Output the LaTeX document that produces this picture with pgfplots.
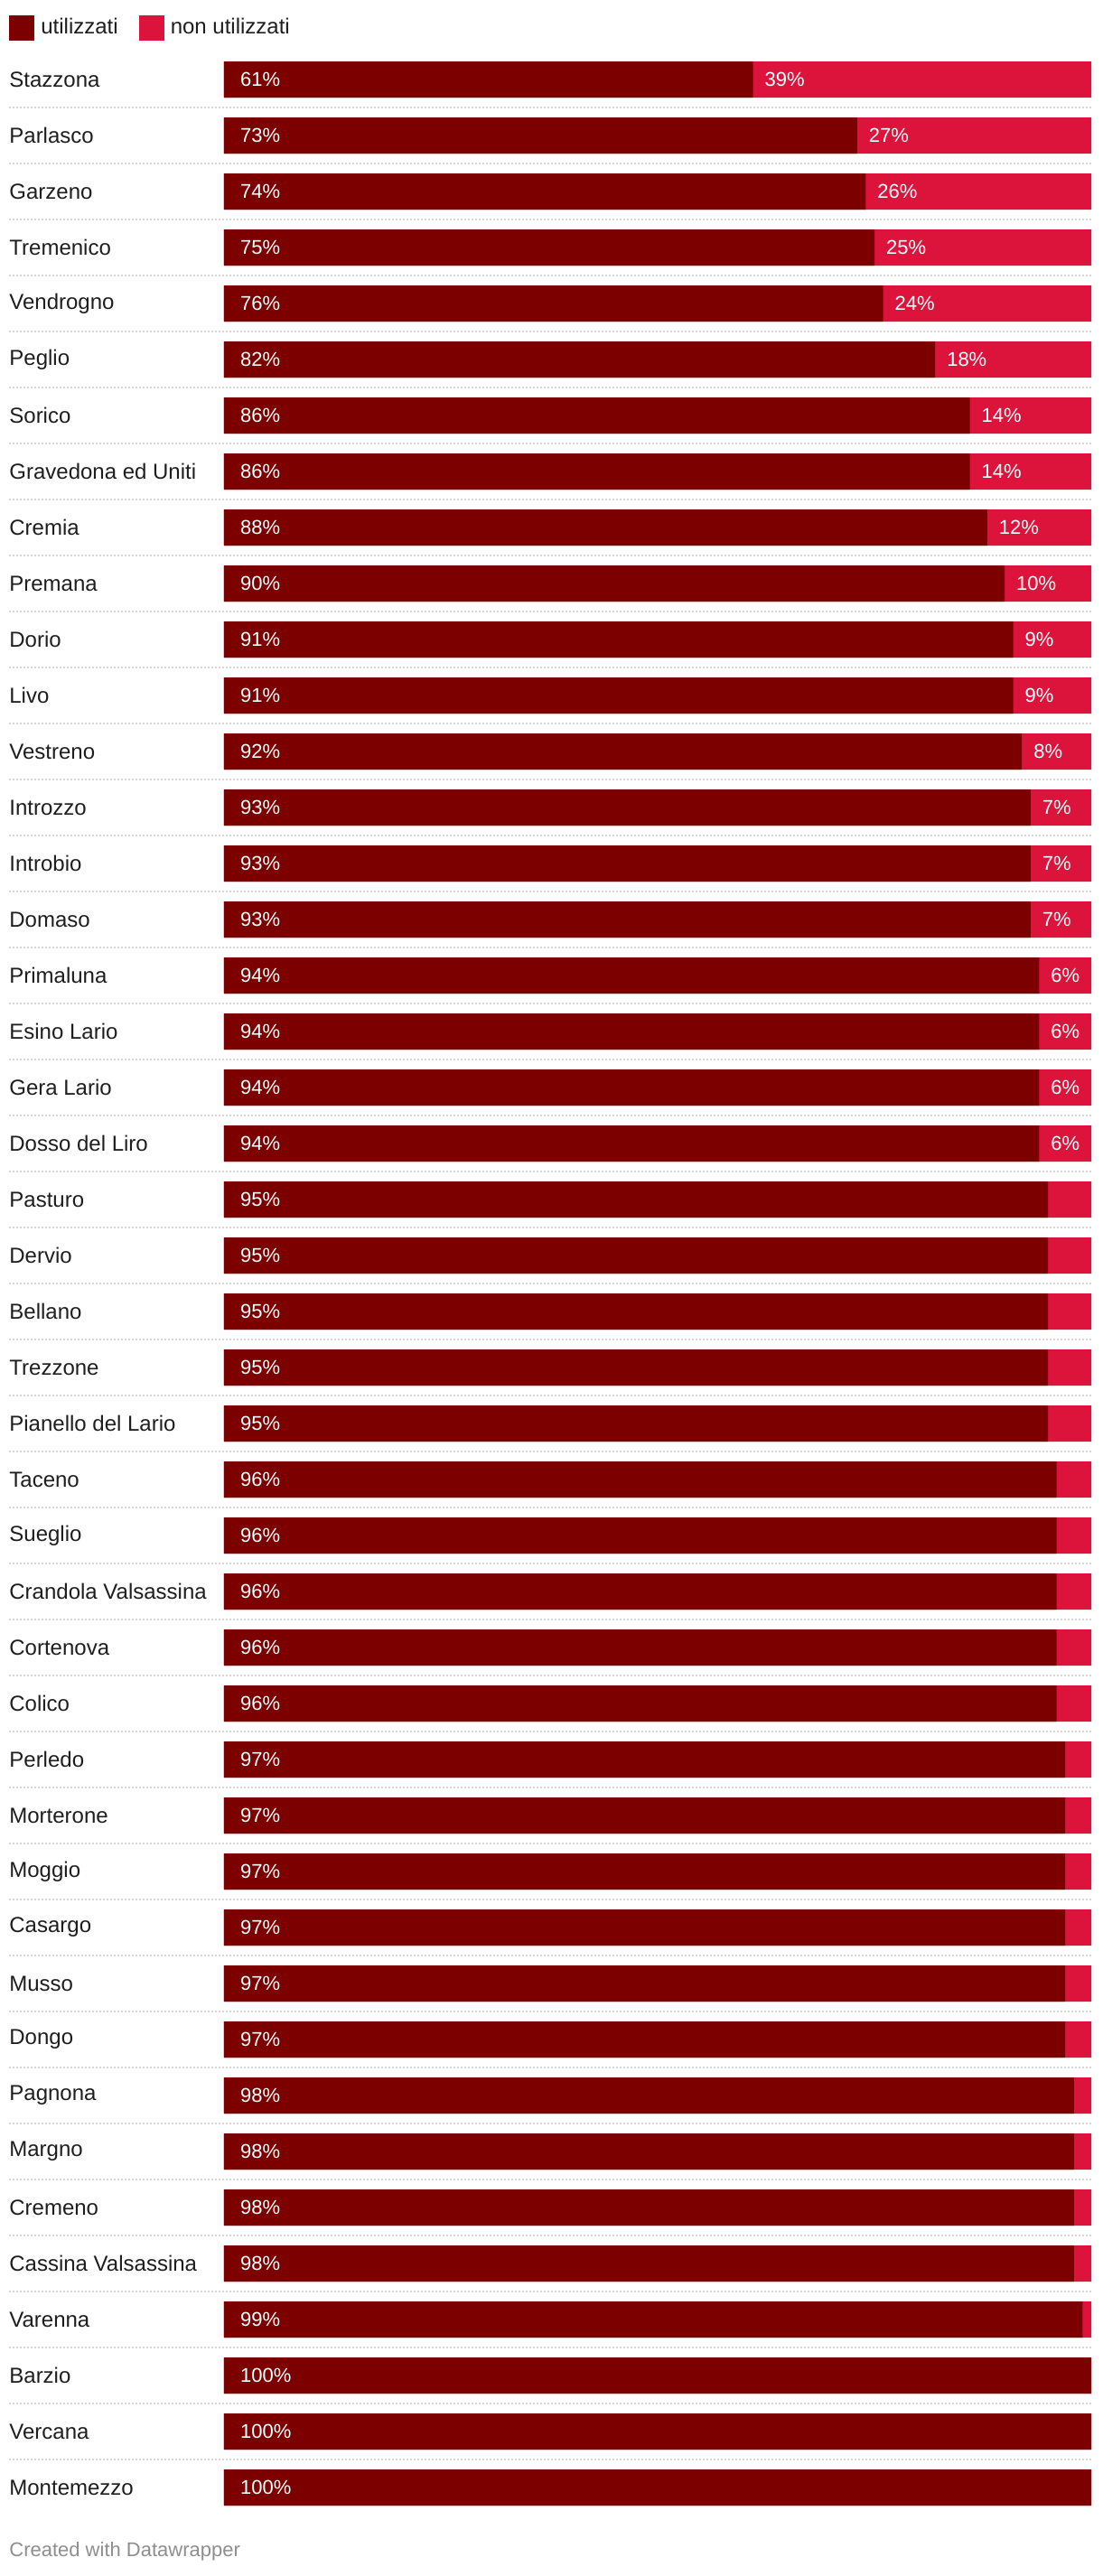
\documentclass[border=0pt]{standalone}
\usepackage{pgfplots}
\pgfplotsset{compat=1.18}
\usepackage{pgfplotstable}
\usepackage{fontspec}
\setmainfont{Liberation Sans}
\definecolor{maroonc}{HTML}{7C0000}
\definecolor{crim}{HTML}{DC143C}
\definecolor{lbl}{HTML}{1E1E1E}
\definecolor{sep}{HTML}{D6D6D6}
\definecolor{foot}{HTML}{8E8E8E}

\pgfplotstableread[col sep=comma]{
row,name,u,n
0,Stazzona,61,39
1,Parlasco,73,27
2,Garzeno,74,26
3,Tremenico,75,25
4,Vendrogno,76,24
5,Peglio,82,18
6,Sorico,86,14
7,Gravedona ed Uniti,86,14
8,Cremia,88,12
9,Premana,90,10
10,Dorio,91,9
11,Livo,91,9
12,Vestreno,92,8
13,Introzzo,93,7
14,Introbio,93,7
15,Domaso,93,7
16,Primaluna,94,6
17,Esino Lario,94,6
18,Gera Lario,94,6
19,Dosso del Liro,94,6
20,Pasturo,95,5
21,Dervio,95,5
22,Bellano,95,5
23,Trezzone,95,5
24,Pianello del Lario,95,5
25,Taceno,96,4
26,Sueglio,96,4
27,Crandola Valsassina,96,4
28,Cortenova,96,4
29,Colico,96,4
30,Perledo,97,3
31,Morterone,97,3
32,Moggio,97,3
33,Casargo,97,3
34,Musso,97,3
35,Dongo,97,3
36,Pagnona,98,2
37,Margno,98,2
38,Cremeno,98,2
39,Cassina Valsassina,98,2
40,Varenna,99,1
41,Barzio,100,0
42,Vercana,100,0
43,Montemezzo,100,0
}\data

\begin{document}
\begin{tikzpicture}
\begin{axis}[
  scale only axis,
  width=599pt, height=1364pt,
  xmin=-24.79, xmax=100,
  ymin=-0.5, ymax=43.5,
  y dir=reverse,
  clip=false,
  bar width=20pt,
  axis line style={draw=none},
  major tick length=0pt,
  xtick=\empty,
  ytick={0,...,43},
  yticklabels from table={\data}{name},
  yticklabel style={anchor=west, inner sep=0pt, text=lbl, font=\fontsize{12pt}{14pt}\selectfont},
  extra y ticks={0.5,1.5,...,42.5},
  extra y tick labels={},
  extra y tick style={grid=major},
  major grid style={draw=sep, line width=1pt, dash pattern=on 1pt off 1pt},
  /pgf/number format/assume math mode=true,
  legend style={at={(0,1)}, anchor=south west, yshift=6pt, draw=none, fill=none,
    inner sep=0pt, legend columns=-1,
    font=\fontsize{12pt}{14pt}\selectfont, text=lbl,
    /tikz/every even column/.append style={column sep=11.5pt},
    nodes={inner sep=0pt, outer sep=0pt, text=lbl}},
  legend image code/.code={\fill[#1] (0pt,-7pt) rectangle (14pt,7pt);},
  legend cell align=left,
]
\addlegendimage{fill=maroonc, draw=none}
\addlegendentry{\hspace{3.5pt}utilizzati}
\addlegendimage{fill=crim, draw=none}
\addlegendentry{\hspace{3.5pt}non utilizzati}

\addplot[xbar, bar shift=0pt, fill=crim, draw=none, forget plot]
  table[x expr=\thisrow{u}+\thisrow{n}, y=row]{\data};
\addplot[xbar, bar shift=0pt, fill=maroonc, draw=none, forget plot]
  table[x=u, y=row]{\data};

\addplot[draw=none, mark=none, forget plot, point meta=explicit,
  nodes near coords={\pgfmathprintnumber{\pgfplotspointmeta}\%},
  every node near coord/.append style={anchor=west, xshift=5.5pt, text=white, font=\fontsize{11pt}{13pt}\selectfont}]
  table[x expr=0, y=row, meta=u]{\data};
\addplot[draw=none, mark=none, forget plot, point meta=explicit,
  skip coords between index={20}{44},
  nodes near coords={\pgfmathprintnumber{\pgfplotspointmeta}\%},
  every node near coord/.append style={anchor=west, xshift=3pt, text=white, font=\fontsize{11pt}{13pt}\selectfont}]
  table[x=u, y=row, meta=n]{\data};

\node[anchor=west, inner sep=0pt, text=foot, font=\fontsize{11pt}{13pt}\selectfont]
  at (rel axis cs:0,0) [yshift=-20pt] {Created with Datawrapper};
\end{axis}
\pgfresetboundingbox
\path (-5pt,-33.5pt) rectangle (605pt,1392.5pt);
\end{tikzpicture}
\end{document}
